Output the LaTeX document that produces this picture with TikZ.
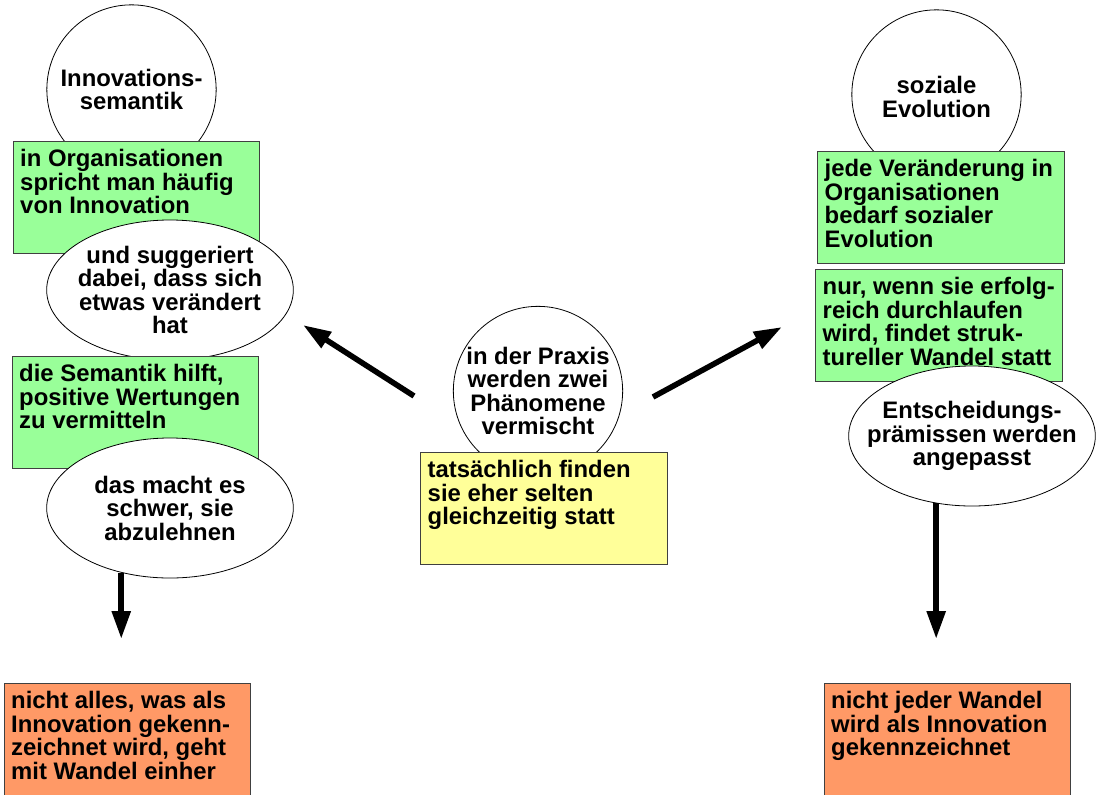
\documentclass[tikz,border=0pt]{standalone}
\usepackage{fontspec}
\setmainfont{Liberation Sans}
\usetikzlibrary{shapes.geometric}
\usetikzlibrary{arrows.meta}
\definecolor{boxgreen}{HTML}{99FF99}
\definecolor{boxyellow}{HTML}{FFFF99}
\definecolor{boxorange}{HTML}{FF9966}
\newcommand{\boxtext}[2][72pt]{\parbox[t][#1][t]{174pt}{\raggedright #2}}

\begin{document}
\begin{tikzpicture}[x=0.75pt,y=-0.75pt,
  font=\fontsize{17.9}{17.6}\selectfont\bfseries,
  bubble/.style={draw,circle,fill=white,line width=0.6pt,minimum size=127pt,inner sep=0pt},
  oval/.style={draw,ellipse,fill=white,line width=0.6pt,minimum width=185pt,minimum height=105pt,inner sep=0pt},
  bubbletext/.style={align=center,inner sep=0pt},
  card/.style={draw=black!75,fill=#1,anchor=north west,inner xsep=5.5pt,inner ysep=6pt,line width=0.6pt},
  bigarrow/.style={line width=4.2pt,-{Triangle[length=21pt,width=13.5pt]}}]
\useasboundingbox (0,0) rectangle (1101,794);

\node[bubble] (innov) at (131.5,89.5) {};
\node[bubbletext] (innovtext) at (innov) {Innovations-\\semantik};
\node[card=boxgreen] (organ) at (12.5,141) {\boxtext{in Organisationen\\spricht man häufig\\von Innovation}};
\node[oval] (sugg) at (170,290) {};
\node[bubbletext] (suggtext) at (sugg) {und suggeriert\\dabei, dass sich\\etwas verändert\\hat};
\node[card=boxgreen] (wert) at (11.5,356) {\boxtext{die Semantik hilft,\\positive Wertungen\\zu vermitteln}};
\node[oval] (ablehn) at (170,508) {};
\node[bubbletext] (ablehntext) at (ablehn) {das macht es\\schwer, sie\\abzulehnen};
\node[card=boxorange] (nichtalles) at (3.5,683) {\boxtext[82pt]{nicht alles, was als\\Innovation gekenn-\\zeichnet wird, geht\\mit Wandel einher}};

\node[bubble] (praxis) at (538,391) {};
\node[bubbletext] (praxistext) at (praxis) {in der Praxis\\werden zwei\\Phänomene\\vermischt};
\node[card=boxyellow] (selten) at (420,452) {\boxtext{tatsächlich finden\\sie eher selten\\gleichzeitig statt}};

\node[bubble] (evol) at (936.5,94.5) {};
\node[bubbletext] (evoltext) at (936.5,97) {soziale\\Evolution};
\node[card=boxgreen] (veraend) at (817,151) {\boxtext{jede Veränderung in\\Organisationen\\bedarf sozialer\\Evolution}};
\node[card=boxgreen] (erfolg) at (815,269) {\boxtext{nur, wenn sie erfolg-\\reich durchlaufen\\wird, findet struk-\\tureller Wandel statt}};
\node[oval] (praem) at (972,436) {};
\node[bubbletext] (praemtext) at (praem) {Entscheidungs-\\prämissen werden\\angepasst};
\node[card=boxorange] (nichtjeder) at (823.5,683) {\boxtext[82pt]{nicht jeder Wandel\\wird als Innovation\\gekennzeichnet}};

\coordinate (leftfrom) at (414,396);
\coordinate (lefttip) at (303,325);
\coordinate (rightfrom) at (653,397);
\coordinate (righttip) at (782,327);
\coordinate (downleft) at (121,639);
\coordinate (downright) at (937,639);
\draw[bigarrow] (leftfrom) -- (lefttip);
\draw[bigarrow] (rightfrom) -- (righttip);
\draw[bigarrow] (ablehn.233) -- (ablehn.233 |- downleft);
\draw[bigarrow] (praem.242) -- (praem.242 |- downright);
\end{tikzpicture}
\end{document}
